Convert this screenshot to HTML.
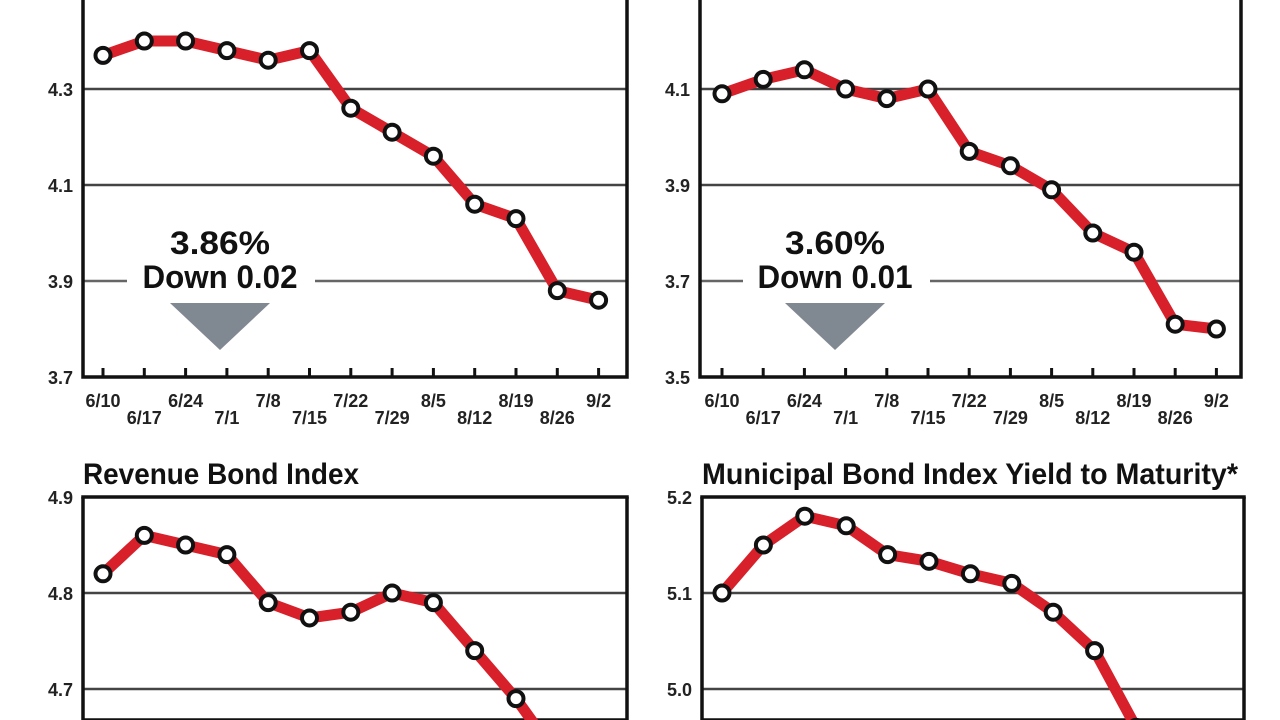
<!DOCTYPE html>
<html><head><meta charset="utf-8"><style>
html,body{margin:0;padding:0;background:#fff;width:1280px;height:720px;overflow:hidden;}
svg{display:block;font-family:"Liberation Sans Narrow","Liberation Sans",sans-serif;font-weight:bold;}
</style></head><body>
<svg id="c" width="1280" height="720" viewBox="0 0 1280 720" xmlns="http://www.w3.org/2000/svg" overflow="hidden"></svg>
<script>
const dates = ["6/10","6/17","6/24","7/1","7/8","7/15","7/22","7/29","8/5","8/12","8/19","8/26","9/2"];
const valsA = [4.37,4.40,4.40,4.38,4.36,4.38,4.26,4.21,4.16,4.06,4.03,3.88,3.86];
const valsB = [4.09,4.12,4.14,4.10,4.08,4.10,3.97,3.94,3.89,3.80,3.76,3.61,3.60];
const valsC = [4.82,4.86,4.85,4.84,4.79,4.774,4.78,4.80,4.79,4.74,4.69,4.63,4.62];
const valsD = [5.10,5.15,5.18,5.17,5.14,5.133,5.12,5.11,5.08,5.04,4.96,4.95,4.95];
const ticksA = [3.7,3.9,4.1,4.3];
const ticksB = [3.5,3.7,3.9,4.1];
const ticksC = [4.7,4.8,4.9];
const ticksD = [5.0,5.1,5.2];
const NS="http://www.w3.org/2000/svg";
const svg=document.getElementById('c');
function mk(tag,attrs,parent,txt){const e=document.createElementNS(NS,tag);for(const k in attrs)e.setAttribute(k,attrs[k]);if(txt!==undefined)e.textContent=txt;(parent||svg).appendChild(e);return e;}

function panel(o){
  const g=mk('g',{});
  
  
  const y=v=>o.y0-(v-o.v0)*o.ppu;
  const x=i=>o.xf+i*o.dx;
  if(o.title){const t=mk('text',{x:o.left,y:o.titleY,'font-size':30,fill:'#111',textLength:o.titleW,lengthAdjust:'spacingAndGlyphs'},g,o.title);
    }
  o.ticks.forEach(v=>{
    const yy=y(v);
    if(Math.abs(yy-o.bottom)>2 && yy>o.top+2){
      if(o.gap && Math.abs(v-o.gap.v)<1e-6){
        const l1=mk('line',{x1:o.left,x2:o.gap.a,y1:yy,y2:yy,stroke:'#666','stroke-width':2.5},g);
        
        const l2=mk('line',{x1:o.gap.b,x2:o.right,y1:yy,y2:yy,stroke:'#666','stroke-width':2.5},g);
        
      } else {
        const l=mk('line',{x1:o.left,x2:o.right,y1:yy,y2:yy,stroke:'#444','stroke-width':2.5},g);
        
      }
    }
    const t=mk('text',{x:o.left-10,y:yy+7,'font-size':18,'text-anchor':'end',fill:'#222'},g,v.toFixed(1));
    
  });
  let d='M'+o.left+' '+(o.top)+' V'+o.bottom+' H'+o.right+' V'+o.top;
  if(o.topBorder) d='M'+o.left+' '+o.bottom+' V'+o.top+' H'+o.right+' V'+o.bottom+' Z';
  const f=mk('path',{d:d,fill:'none',stroke:'#111','stroke-width':3.5},g);
  
  if(o.xlabels){
    dates.forEach((s,i)=>{
      const tk=mk('line',{x1:x(i),x2:x(i),y1:o.bottom-9,y2:o.bottom,stroke:'#111','stroke-width':3},g);
      
      const t=mk('text',{x:x(i),y:o.bottom+(i%2?47:30),'font-size':18,'text-anchor':'middle',fill:'#222'},g,s);
      
    });
  }
  if(o.ann){
    const a=o.ann;
    const t1=mk('text',{x:a.cx,y:a.y1,'font-size':32,'text-anchor':'middle',fill:'#111',textLength:a.w1,lengthAdjust:'spacingAndGlyphs'},g,a.t1);
    
    const t2=mk('text',{x:a.cx,y:a.y2,'font-size':32,'text-anchor':'middle',fill:'#111',textLength:a.w2,lengthAdjust:'spacingAndGlyphs'},g,a.t2);
    
    const tri=mk('polygon',{points:(a.cx-50)+','+303+' '+(a.cx+50)+','+303+' '+a.cx+','+350,fill:'#808892'},g);
    
  }
  const cp=mk('clipPath',{id:'cp'+o.name},g);
  mk('rect',{x:o.left-20,y:Math.max(o.top-20,-20),width:o.right-o.left+40,height:Math.min(o.bottom,720)-Math.max(o.top-20,-20)},cp);
  const sg=mk('g',{'clip-path':'url(#cp'+o.name+')'},g);
  const pts=o.vals.map((v,i)=>x(i)+','+y(v)).join(' ');
  const pl=mk('polyline',{points:pts,fill:'none',stroke:'#d8202a','stroke-width':11,'stroke-linejoin':'round'},sg);
  
  o.vals.forEach((v,i)=>{
    const c=mk('circle',{cx:x(i),cy:y(v),r:7.5,fill:'#fff',stroke:'#111','stroke-width':4},sg);
    
  });
}
panel({name:'top-left-chart',left:83,right:627,top:-10,bottom:377,y0:377,v0:3.7,ppu:480,xf:103,dx:41.3,
  ticks:ticksA,vals:valsA,xlabels:true,gap:{v:3.9,a:127,b:315},
  ann:{cx:220,t1:'3.86%',t2:'Down 0.02',y1:254,y2:288,w1:100,w2:155}});
panel({name:'top-right-chart',left:700,right:1241,top:-10,bottom:377,y0:377,v0:3.5,ppu:480,xf:722,dx:41.2,
  ticks:ticksB,vals:valsB,xlabels:true,gap:{v:3.7,a:743,b:930},
  ann:{cx:835,t1:'3.60%',t2:'Down 0.01',y1:254,y2:288,w1:100,w2:155}});
panel({name:'revenue-bond-chart',title:'Revenue Bond Index',titleY:484,titleW:276,left:83,right:627,top:497,bottom:720,topBorder:false,
  y0:497,v0:4.9,ppu:960,xf:103,dx:41.3,ticks:ticksC,vals:valsC});
panel({name:'municipal-bond-chart',title:'Municipal Bond Index Yield to Maturity*',titleY:484,titleW:536,left:702,right:1244,top:497,bottom:720,topBorder:false,
  y0:497,v0:5.2,ppu:960,xf:722,dx:41.4,ticks:ticksD,vals:valsD});
// top borders for bottom panels
[[83,627],[702,1244]].forEach(p=>{
  const l=mk('line',{x1:p[0]-1.75,x2:p[1]+1.75,y1:497,y2:497,stroke:'#111','stroke-width':3.5});
  
  
});
</script>
</body></html>
